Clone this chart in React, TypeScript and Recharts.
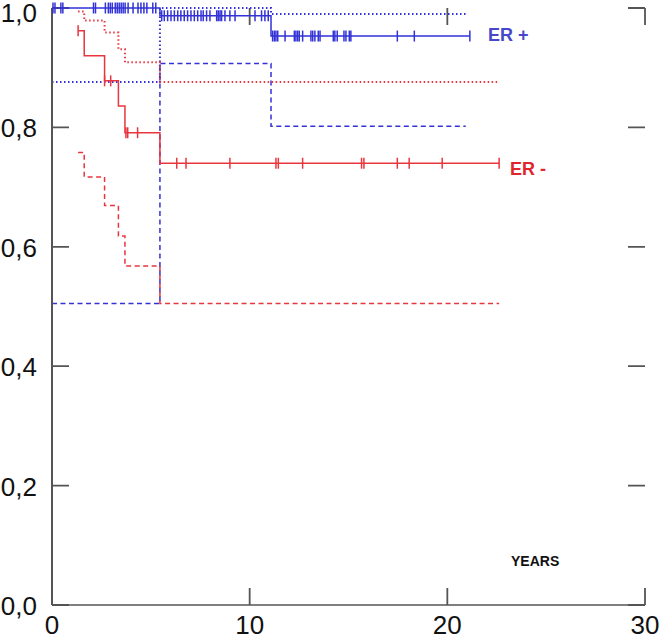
import React from 'react';
import { ComposedChart, Line, Scatter, XAxis, YAxis, ReferenceLine, Customized } from 'recharts';

const W = 661;
const H = 639;

const BLUE = '#3232d6';
const RED = '#e8363e';
const AXIS = '#555';
const FONT = "'Liberation Sans', Arial, sans-serif";

/** ER+ : survival estimate and 95% CI (years) */
const erPosTimes = [0, 5.46, 11.08, 21.14];
const erPosSurv = [1.0, 0.987, 0.953, 0.953];
const erPosCiTimes = [0, 5.46, 11.08, 20.93];
const erPosUpper = [0.876, 1.0, 0.99, 0.99];
const erPosLower = [0.505, 0.907, 0.802, 0.802];
const erPosCensored = [
  0.05, 0.15, 0.45, 0.55, 2.1, 2.2, 2.7, 2.85, 2.95, 3.05, 3.2, 3.3, 3.4, 3.5,
  3.6, 3.7, 3.85, 4.1, 4.35, 4.5, 4.65, 4.8, 5.1, 5.25,
  5.55, 5.68, 5.85, 6.02, 6.19, 6.36, 6.52, 6.69, 6.86, 7.03, 7.2, 7.37, 7.54,
  7.65, 7.82, 7.99, 8.33, 8.41, 8.5, 8.58, 8.75, 9.0, 9.26, 10.27, 10.6, 10.77,
  10.94,
  11.16, 11.25, 11.33, 11.42, 11.79, 12.26, 12.34, 12.43, 12.51, 12.68, 13.1,
  13.19, 13.3, 13.47, 13.56, 14.23, 14.31, 14.43, 14.77, 14.87, 15.04, 15.12,
  17.47, 18.33, 21.14,
];

/** ER- : survival estimate and 95% CI (years) */
const erNegTimes = [1.32, 1.63, 2.66, 3.36, 3.69, 5.46, 22.62];
const erNegSurv = [0.962, 0.92, 0.878, 0.836, 0.791, 0.74, 0.74];
const erNegUpper = [0.994, 0.979, 0.959, 0.931, 0.909, 0.876, 0.876];
const erNegLower = [0.758, 0.717, 0.669, 0.618, 0.568, 0.505, 0.505];
const erNegCensored = [
  1.32, 2.66, 2.97, 3.74, 3.83, 4.33, 6.31, 6.78, 9.0, 11.33, 11.45, 12.68,
  15.66, 15.78, 17.47, 18.07, 19.74, 22.62,
];

const xTicks = [0, 10, 20, 30];
const yTicks = [0, 0.2, 0.4, 0.6, 0.8, 1.0];

const steps = (times: number[], vals: number[]) =>
  times.map((t, i) => ({ t, s: vals[i] }));

const survAt = (times: number[], vals: number[], t: number) => {
  let v = vals[0];
  times.forEach((tt, i) => {
    if (tt <= t) v = vals[i];
  });
  return v;
};

const marks = (cens: number[], times: number[], vals: number[]) =>
  cens.map((t) => ({ t, s: survAt(times, vals, t) }));

const censorShape = (color: string) => (props: any) => {
  const { cx, cy } = props;
  return (
    <line x1={cx} x2={cx} y1={cy - 5.5} y2={cy + 5.5} stroke={color} strokeWidth={1.5} />
  );
};

const fmt = (v: number) => v.toFixed(1).replace('.', ',');
const TICK_LEN = 17;
const ok = (...v: any[]) => v.every((n) => typeof n === 'number' && !isNaN(n));

// each axis tick is a reference line across the plot, drawn only as
// two short inward ticks at the frame plus its label outside
const yTickShape = (value: number) => (props: any) => {
  const { x1, y1, x2, y2 } = props;
  if (!ok(x1, y1, x2, y2)) return <g />;
  const left = Math.min(x1, x2);
  const right = Math.max(x1, x2);
  const y = y1;
  return (
    <g>
      <path
        d={`M${left},${y}H${left + TICK_LEN}M${right},${y}H${right - TICK_LEN}`}
        stroke={AXIS}
        strokeWidth={1.8}
        fill="none"
      />
      <text
        x={left - 15}
        y={Math.max(y + 1, 13)}
        textAnchor="end"
        dominantBaseline="central"
        fontSize={26}
        fontFamily={FONT}
        fill="#111"
      >
        {fmt(value)}
      </text>
    </g>
  );
};

const xTickShape = (value: number) => (props: any) => {
  const { x1, y1, x2, y2 } = props;
  if (!ok(x1, y1, x2, y2)) return <g />;
  const top = Math.min(y1, y2);
  const bottom = Math.max(y1, y2);
  const x = x1;
  return (
    <g>
      <path
        d={`M${x},${top}V${top + TICK_LEN}M${x},${bottom}V${bottom - TICK_LEN}`}
        stroke={AXIS}
        strokeWidth={1.8}
        fill="none"
      />
      <text x={x} y={bottom + 29} textAnchor="middle" fontSize={26} fontFamily={FONT} fill="#111">
        {value}
      </text>
    </g>
  );
};

const Labels = () => (
  <g fontFamily={FONT} fontWeight="bold">
    <text x={488} y={41} fontSize={18} fill="#4747c9">ER +</text>
    <text x={510} y={175} fontSize={18} fill="#e0252d">ER -</text>
    <text x={511} y={566} fontSize={14} fill="#111">YEARS</text>
  </g>
);

export default function App() {
  const lineProps = {
    type: 'stepAfter' as const,
    dataKey: 's',
    dot: false,
    activeDot: false,
    isAnimationActive: false,
    strokeWidth: 1.5,
  };
  const axisLine = { stroke: AXIS, strokeWidth: 1.5 };

  return (
    <div style={{ position: 'absolute', left: 0, top: 0, background: '#fff' }}>
      <ComposedChart width={W} height={H} margin={{ top: 8, right: 16, bottom: 0, left: 0 }}>
        <XAxis xAxisId="b" dataKey="t" type="number" domain={[0, 30]} height={34} tick={false} tickLine={false} axisLine={axisLine} />
        <XAxis xAxisId="t" orientation="top" type="number" domain={[0, 30]} height={0} tick={false} tickLine={false} axisLine={axisLine} />
        <YAxis yAxisId="l" type="number" domain={[0, 1]} width={52} tick={false} tickLine={false} axisLine={{ stroke: AXIS, strokeWidth: 2 }} />
        <YAxis yAxisId="r" orientation="right" type="number" domain={[0, 1]} width={0} tick={false} tickLine={false} axisLine={axisLine} />

        {/* ticks and tick labels on the frame */}
        {yTicks.map((v) => (
          <ReferenceLine key={`y${v}`} xAxisId="b" yAxisId="l" y={v} shape={yTickShape(v)} />
        ))}
        {xTicks.map((v) => (
          <ReferenceLine key={`x${v}`} xAxisId="b" yAxisId="l" x={v} shape={xTickShape(v)} />
        ))}

        {/* confidence bands */}
        <Line {...lineProps} xAxisId="b" yAxisId="l" data={steps(erPosCiTimes, erPosLower)} stroke={BLUE} strokeDasharray="5 3.5" />
        <Line {...lineProps} xAxisId="b" yAxisId="l" data={steps(erPosCiTimes, erPosUpper)} stroke={BLUE} strokeDasharray="1.5 2.5" strokeWidth={2} />
        <Line {...lineProps} xAxisId="b" yAxisId="l" data={steps(erNegTimes, erNegLower)} stroke={RED} strokeDasharray="5 3.5" />
        <Line {...lineProps} xAxisId="b" yAxisId="l" data={steps(erNegTimes, erNegUpper)} stroke={RED} strokeDasharray="1.5 2.5" strokeWidth={2} />

        {/* survival curves */}
        <Line {...lineProps} xAxisId="b" yAxisId="l" data={steps(erPosTimes, erPosSurv)} stroke={BLUE} />
        <Line {...lineProps} xAxisId="b" yAxisId="l" data={steps(erNegTimes, erNegSurv)} stroke={RED} />

        {/* censored observations */}
        <Scatter xAxisId="b" yAxisId="l" dataKey="s" data={marks(erPosCensored, erPosTimes, erPosSurv)} shape={censorShape(BLUE)} isAnimationActive={false} />
        <Scatter xAxisId="b" yAxisId="l" dataKey="s" data={marks(erNegCensored, erNegTimes, erNegSurv)} shape={censorShape(RED)} isAnimationActive={false} />

        <Customized component={<Labels />} />
      </ComposedChart>
    </div>
  );
}
